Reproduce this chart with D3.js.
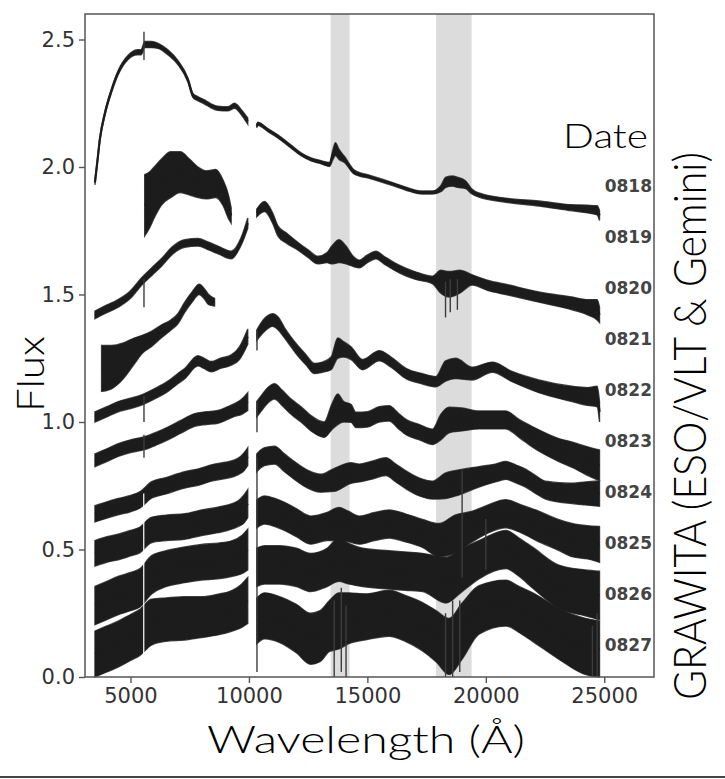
<!DOCTYPE html>
<html>
<head>
<meta charset="utf-8">
<script src="https://cdn.jsdelivr.net/npm/d3@7"></script>
<style>
  html, body { margin: 0; padding: 0; background: #fff; }
  svg { display: block; }
</style>
</head>
<body>
<svg id="chart" width="725" height="779"></svg>
<script>
// Axis ticks
const wavelengthTicks = [5000, 10000, 15000, 20000, 25000];
const fluxTicks = [0.0, 0.5, 1.0, 1.5, 2.0, 2.5];

// Telluric windows (Å)
const telluricBands = [[13450, 14250], [17900, 19400]];

// Epoch labels and the flux level each label sits at
const dates = ["0818", "0819", "0820", "0821", "0822", "0823", "0824", "0825", "0826", "0827"];
const dateLabelFlux = [1.925, 1.725, 1.525, 1.325, 1.125, 0.925, 0.725, 0.525, 0.325, 0.125];

// Spectra: [wavelength Å, offset flux, noise half-width]
const s0818_opt = [[3500,1.94,0.01],[3600,2.02,0.008],[3710,2.11,0.008],[3920,2.21,0.008],[4200,2.30,0.008],[4480,2.37,0.008],[4900,2.43,0.008],[5300,2.45,0.01],[5450,2.45,0.01],[5600,2.48,0.012],[5900,2.48,0.012],[6160,2.475,0.01],[6580,2.45,0.01],[7000,2.41,0.008],[7430,2.34,0.008],[7640,2.28,0.008],[7800,2.27,0.008],[8130,2.255,0.008],[8400,2.24,0.008],[8690,2.23,0.008],[9110,2.228,0.008],[9390,2.24,0.01],[9680,2.215,0.01],[9950,2.18,0.012]];
const s0818_nir = [[10330,2.16,0.006],[10370,2.17,0.006],[10800,2.145,0.006],[11220,2.12,0.006],[11780,2.08,0.006],[12200,2.05,0.006],[12620,2.03,0.006],[13000,2.02,0.006],[13400,2.01,0.008],[13550,2.05,0.02],[13650,2.07,0.025],[13800,2.05,0.02],[14030,2.03,0.012],[14450,1.98,0.008],[15150,1.96,0.006],[16000,1.935,0.006],[16630,1.915,0.006],[17300,1.90,0.006],[17750,1.90,0.006],[18100,1.915,0.012],[18310,1.94,0.02],[18600,1.945,0.02],[18800,1.94,0.02],[19150,1.93,0.015],[19400,1.905,0.01],[19710,1.89,0.008],[20840,1.87,0.008],[22240,1.857,0.01],[23640,1.84,0.012],[24300,1.835,0.015],[24700,1.83,0.018],[24800,1.81,0.02]];

const s0819_opt = [[5600,1.85,0.12],[5800,1.87,0.11],[6000,1.9,0.1],[6300,1.94,0.09],[6700,1.97,0.09],[7100,1.98,0.08],[7500,1.96,0.07],[7850,1.94,0.06],[8200,1.93,0.055],[8600,1.935,0.055],[8900,1.9,0.05],[9150,1.84,0.045],[9250,1.81,0.03]];

const s0820_opt = [[3500,1.42,0.015],[3800,1.435,0.015],[4480,1.465,0.015],[5000,1.50,0.015],[5460,1.55,0.015],[5900,1.59,0.015],[6300,1.625,0.015],[6800,1.675,0.015],[7290,1.70,0.015],[7850,1.705,0.015],[8300,1.69,0.015],[8690,1.675,0.015],[9250,1.655,0.015],[9680,1.71,0.015],[9950,1.78,0.02]];
const s0820_nir = [[10330,1.82,0.015],[10660,1.845,0.02],[11000,1.80,0.02],[11220,1.75,0.02],[11600,1.72,0.02],[12060,1.69,0.015],[12500,1.66,0.015],[12900,1.635,0.015],[13300,1.645,0.02],[13500,1.655,0.035],[13800,1.67,0.045],[14100,1.655,0.035],[14400,1.63,0.02],[14660,1.62,0.015],[15000,1.64,0.015],[15360,1.655,0.015],[15700,1.635,0.015],[16340,1.60,0.015],[17000,1.575,0.015],[17750,1.557,0.015],[18100,1.55,0.045],[18450,1.54,0.05],[18900,1.55,0.045],[19430,1.557,0.02],[20100,1.535,0.02],[20840,1.52,0.02],[22240,1.49,0.02],[23640,1.465,0.025],[24300,1.45,0.03],[24700,1.44,0.04],[24800,1.42,0.03]];

const s0821_opt = [[3780,1.21,0.09],[4200,1.215,0.085],[4700,1.24,0.07],[5180,1.28,0.05],[5500,1.305,0.035],[5880,1.325,0.03],[6300,1.355,0.025],[6700,1.38,0.02],[7000,1.405,0.02],[7290,1.45,0.02],[7600,1.49,0.02],[7900,1.52,0.02],[8100,1.505,0.02],[8300,1.48,0.02],[8550,1.47,0.015]];

const s0822_opt = [[3500,1.02,0.02],[4000,1.04,0.02],[4480,1.06,0.02],[5000,1.073,0.02],[5460,1.086,0.02],[6000,1.11,0.02],[6580,1.14,0.02],[7000,1.17,0.02],[7290,1.19,0.02],[7850,1.24,0.02],[8100,1.23,0.02],[8410,1.217,0.02],[8800,1.23,0.02],[9250,1.243,0.02],[9600,1.27,0.025],[9950,1.335,0.03]];
const s0822_nir = [[10330,1.34,0.02],[10600,1.375,0.025],[11000,1.40,0.025],[11250,1.385,0.025],[11500,1.35,0.02],[12060,1.28,0.02],[12400,1.245,0.02],[12760,1.21,0.02],[13100,1.215,0.02],[13470,1.23,0.025],[13750,1.29,0.04],[14000,1.285,0.03],[14310,1.27,0.025],[14800,1.225,0.02],[15500,1.26,0.02],[16000,1.235,0.02],[16630,1.19,0.02],[17300,1.17,0.02],[17890,1.158,0.02],[18300,1.20,0.04],[18730,1.21,0.04],[19430,1.19,0.025],[20270,1.215,0.02],[21110,1.178,0.02],[22240,1.14,0.025],[23640,1.11,0.03],[24300,1.10,0.035],[24700,1.10,0.04],[24800,1.04,0.04]];

const s0823_opt = [[3500,0.85,0.025],[4000,0.87,0.025],[4480,0.89,0.025],[5000,0.905,0.025],[5600,0.917,0.025],[6100,0.935,0.025],[6580,0.955,0.025],[7100,0.98,0.025],[7710,1.008,0.025],[8200,1.015,0.025],[8690,1.02,0.025],[9100,1.035,0.025],[9390,1.047,0.025],[9700,1.06,0.03],[9950,1.08,0.035]];
const s0823_nir = [[10330,1.05,0.03],[10520,1.073,0.03],[10800,1.105,0.03],[11080,1.12,0.03],[11400,1.095,0.03],[11780,1.06,0.03],[12200,1.03,0.03],[12620,0.995,0.03],[13180,0.97,0.03],[13500,1.02,0.05],[13750,1.05,0.06],[14000,1.04,0.04],[14310,1.034,0.035],[14520,1.008,0.03],[15000,1.01,0.03],[15500,1.03,0.03],[15920,1.034,0.03],[16300,1.005,0.03],[16630,0.98,0.03],[17200,0.96,0.03],[17750,0.942,0.03],[18100,0.98,0.05],[18450,1.008,0.05],[19000,1.01,0.045],[19710,1.008,0.035],[20840,1.008,0.035],[21400,0.975,0.035],[21960,0.942,0.04],[23080,0.89,0.045],[23700,0.87,0.05],[24200,0.85,0.055],[24800,0.83,0.06]];

const s0824_opt = [[3500,0.64,0.032],[4000,0.655,0.032],[4480,0.668,0.032],[5000,0.68,0.032],[5390,0.694,0.032],[5880,0.733,0.032],[6500,0.75,0.032],[7290,0.773,0.032],[7900,0.785,0.032],[8410,0.80,0.032],[9000,0.81,0.032],[9530,0.825,0.032],[9800,0.845,0.035],[9950,0.864,0.035]];
const s0824_nir = [[10330,0.84,0.035],[10660,0.864,0.035],[11080,0.87,0.035],[11500,0.84,0.035],[11920,0.81,0.035],[12500,0.775,0.035],[13040,0.76,0.035],[13600,0.773,0.045],[14310,0.80,0.04],[14660,0.80,0.035],[15150,0.81,0.035],[15780,0.825,0.035],[16200,0.80,0.035],[16630,0.773,0.035],[17200,0.745,0.035],[17750,0.733,0.035],[18300,0.75,0.05],[18730,0.76,0.05],[19710,0.785,0.04],[20400,0.80,0.035],[20840,0.81,0.035],[21300,0.795,0.035],[21680,0.78,0.035],[22100,0.755,0.035],[22520,0.733,0.035],[23640,0.72,0.04],[24200,0.72,0.045],[24800,0.72,0.05]];

const s0825_opt = [[3500,0.485,0.05],[4000,0.50,0.05],[4480,0.51,0.05],[5000,0.525,0.05],[5390,0.537,0.05],[5880,0.576,0.05],[6500,0.585,0.05],[7290,0.59,0.05],[8000,0.605,0.05],[8690,0.616,0.05],[9530,0.64,0.05],[9800,0.66,0.055],[9950,0.68,0.055]];
const s0825_nir = [[10330,0.64,0.055],[10660,0.655,0.055],[11100,0.645,0.055],[11500,0.63,0.055],[12000,0.605,0.055],[12620,0.576,0.055],[13300,0.59,0.055],[13800,0.60,0.065],[14200,0.59,0.06],[14660,0.576,0.055],[15300,0.59,0.055],[15920,0.60,0.055],[16600,0.585,0.055],[17330,0.563,0.055],[18030,0.537,0.065],[18700,0.56,0.075],[19430,0.59,0.06],[20100,0.62,0.055],[20840,0.64,0.055],[21500,0.62,0.055],[22240,0.59,0.06],[23000,0.56,0.06],[23640,0.537,0.065],[24300,0.528,0.065],[24800,0.52,0.07]];

const s0826_opt = [[3500,0.28,0.075],[4000,0.30,0.075],[4500,0.32,0.075],[5000,0.335,0.075],[5400,0.35,0.075],[5880,0.40,0.075],[6500,0.425,0.07],[7290,0.44,0.07],[8000,0.45,0.07],[8690,0.455,0.07],[9300,0.465,0.07],[9700,0.48,0.075],[9950,0.50,0.08]];
const s0826_nir = [[10330,0.43,0.075],[10660,0.44,0.075],[11300,0.44,0.075],[12000,0.43,0.075],[12600,0.41,0.075],[13300,0.43,0.075],[13800,0.46,0.085],[14200,0.445,0.08],[14800,0.43,0.075],[15920,0.42,0.075],[16600,0.415,0.075],[17330,0.41,0.075],[18310,0.38,0.09],[19000,0.42,0.085],[19710,0.46,0.075],[20840,0.50,0.075],[21400,0.47,0.075],[21960,0.43,0.08],[23080,0.354,0.085],[24200,0.33,0.09],[24800,0.32,0.095]];

const s0827_opt = [[3500,0.09,0.09],[4000,0.11,0.09],[4500,0.13,0.09],[5000,0.155,0.09],[5400,0.175,0.09],[5880,0.215,0.09],[6500,0.225,0.085],[7290,0.23,0.085],[8000,0.235,0.08],[8690,0.245,0.08],[9300,0.26,0.08],[9700,0.28,0.085],[9950,0.30,0.09]];
const s0827_nir = [[10330,0.22,0.09],[10660,0.24,0.09],[11300,0.225,0.09],[12000,0.19,0.095],[12600,0.15,0.1],[13000,0.16,0.1],[13400,0.20,0.1],[13800,0.22,0.11],[14200,0.23,0.1],[14940,0.236,0.09],[15920,0.25,0.09],[16600,0.23,0.09],[17330,0.197,0.095],[17900,0.16,0.1],[18450,0.12,0.11],[19000,0.18,0.11],[19710,0.263,0.095],[20840,0.29,0.09],[21400,0.265,0.09],[21960,0.236,0.095],[23080,0.17,0.1],[24200,0.12,0.11],[24800,0.11,0.11]];

// Narrow residual spikes: [wavelength Å, low flux, high flux]
const spikes = [
  [5570,2.42,2.53],[5570,1.45,1.56],[5570,1.00,1.10],[5570,0.86,0.95],
  [10340,1.28,1.36],[10340,0.96,1.08],[10340,0.02,0.86],
  [18300,1.41,1.55],[18500,1.43,1.56],[18800,1.44,1.56],
  [13600,0.00,0.30],[13900,0.02,0.35],[14100,0.00,0.28],
  [18300,0.00,0.25],[18600,0.00,0.30],[18900,0.02,0.30],
  [19000,0.39,0.81],[20000,0.42,0.62],
  [24500,0.00,0.20],[24700,0.00,0.25]
];

const segments = [s0818_opt, s0818_nir, s0819_opt, s0820_opt, s0820_nir, s0821_opt,
  s0822_opt, s0822_nir, s0823_opt, s0823_nir, s0824_opt, s0824_nir,
  s0825_opt, s0825_nir, s0826_opt, s0826_nir, s0827_opt, s0827_nir];

const svg = d3.select("#chart");
const plotLeft = 85, plotRight = 654, plotTop = 14, plotBottom = 677;

const x = d3.scaleLinear().domain([3080, 27100]).range([plotLeft, plotRight]);
const y = d3.scaleLinear().domain([0, 2.6]).range([plotBottom, plotTop]);

// Shaded telluric windows
svg.append("g").selectAll("rect").data(telluricBands).join("rect")
  .attr("x", d => x(d[0])).attr("width", d => x(d[1]) - x(d[0]))
  .attr("y", plotTop).attr("height", plotBottom - plotTop)
  .attr("fill", "#dcdcdd");

const band = d3.area()
  .x(d => x(d[0]))
  .y0(d => y(d[1] - d[2]))
  .y1(d => y(d[1] + d[2]))
  .curve(d3.curveMonotoneX);
const mid = d3.line()
  .x(d => x(d[0])).y(d => y(d[1]))
  .curve(d3.curveMonotoneX);

// Outer fringe first, then the solid noise envelopes and centre lines on top
const gs = svg.append("g");
gs.selectAll("path.fringe").data(segments).join("path")
  .attr("class", "fringe").attr("d", band)
  .attr("fill", "none").attr("stroke", "#4a4a4a").attr("stroke-width", 1.4);
gs.selectAll("path.band").data(segments).join("path")
  .attr("class", "band").attr("d", band)
  .attr("fill", "#1c1c1c");
gs.selectAll("path.mid").data(segments).join("path")
  .attr("class", "mid").attr("d", mid)
  .attr("fill", "none").attr("stroke", "#1c1c1c").attr("stroke-width", 2.2);

svg.append("g").selectAll("line").data(spikes).join("line")
  .attr("x1", d => x(d[0])).attr("x2", d => x(d[0]))
  .attr("y1", d => y(d[1])).attr("y2", d => y(d[2]))
  .attr("stroke", "#3c3c3c").attr("stroke-width", 1.4);

// Dichroic gap in the late optical spectra
svg.append("line")
  .attr("x1", x(5560)).attr("x2", x(5560))
  .attr("y1", y(0.0)).attr("y2", y(0.72))
  .attr("stroke", "#fff").attr("stroke-width", 1.2);

// Frame
svg.append("rect")
  .attr("x", plotLeft).attr("y", plotTop).attr("width", plotRight - plotLeft).attr("height", plotBottom - plotTop)
  .attr("fill", "none").attr("stroke", "#555").attr("stroke-width", 1.5);

const tickFont = "'DejaVu Sans', sans-serif";
const yAxis = svg.append("g").attr("transform", `translate(${plotLeft},0)`)
  .call(d3.axisLeft(y).tickValues(fluxTicks).tickFormat(d3.format(".1f")).tickSize(6).tickPadding(4));
const xAxis = svg.append("g").attr("transform", `translate(0,${plotBottom})`)
  .call(d3.axisBottom(x).tickValues(wavelengthTicks).tickFormat(d3.format("d")).tickSize(6).tickPadding(5));
[xAxis, yAxis].forEach(a => {
  a.select(".domain").remove();
  a.selectAll(".tick line").attr("stroke", "#555").attr("stroke-width", 1.4);
  a.selectAll(".tick text").attr("fill", "#333").style("font-family", tickFont).style("font-size", "21px");
});

// Epoch labels
svg.append("g").selectAll("text").data(dates).join("text")
  .attr("x", 652).attr("y", (d, i) => y(dateLabelFlux[i]))
  .attr("text-anchor", "end").attr("dominant-baseline", "central")
  .attr("fill", "#444")
  .style("font-family", tickFont).style("font-weight", "bold").style("font-size", "17px")
  .text(d => d);

const titleFont = "Lato, 'Noto Sans', sans-serif";
svg.append("text").attr("x", 563).attr("y", 148)
  .attr("textLength", 85).attr("lengthAdjust", "spacingAndGlyphs")
  .style("font-family", titleFont).style("font-weight", 300).style("font-size", "34px")
  .attr("fill", "#000").text("Date");

svg.append("text").attr("x", 366).attr("y", 753).attr("text-anchor", "middle")
  .attr("textLength", 318).attr("lengthAdjust", "spacingAndGlyphs")
  .style("font-family", titleFont).style("font-weight", 300).style("font-size", "38px")
  .attr("fill", "#000").text("Wavelength (Å)");

svg.append("text").attr("transform", "translate(44,374) rotate(-90)").attr("text-anchor", "middle")
  .attr("textLength", 76).attr("lengthAdjust", "spacingAndGlyphs")
  .style("font-family", titleFont).style("font-weight", 300).style("font-size", "38px")
  .attr("fill", "#000").text("Flux");

svg.append("text").attr("transform", "translate(706,426) rotate(-90)").attr("text-anchor", "middle")
  .attr("textLength", 548).attr("lengthAdjust", "spacingAndGlyphs")
  .style("font-family", titleFont).style("font-weight", 300).style("font-size", "46px")
  .attr("fill", "#000").text("GRAWITA (ESO/VLT & Gemini)");

// Rule along the lower edge
svg.append("line").attr("x1", 0).attr("x2", 725).attr("y1", 777).attr("y2", 777)
  .attr("stroke", "#444").attr("stroke-width", 2);
</script>
</body>
</html>
